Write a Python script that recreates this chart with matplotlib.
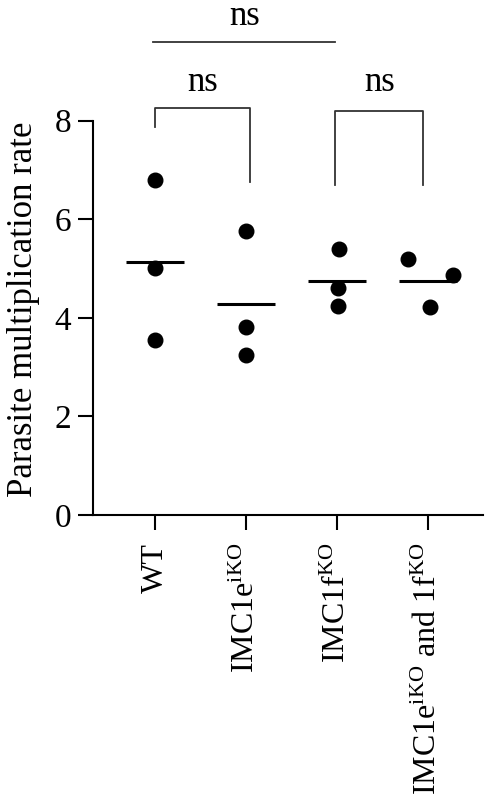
import matplotlib
matplotlib.use("Agg")
import matplotlib.pyplot as plt
import numpy as np

plt.rcParams['font.family'] = ['Liberation Serif', 'DejaVu Serif']
plt.rcParams['mathtext.fontset'] = 'custom'
plt.rcParams['mathtext.rm'] = 'Liberation Serif'
plt.rcParams['mathtext.it'] = 'Liberation Serif'

categories = ['WT', r'IMC1e$^{\mathrm{iKO}}$', r'IMC1f$^{\mathrm{KO}}$',
              r'IMC1e$^{\mathrm{iKO}}$ and 1f$^{\mathrm{KO}}$']
values = [
    [6.80, 5.02, 3.56],
    [5.76, 3.82, 3.24],
    [5.40, 4.60, 4.25],
    [5.19, 4.87, 4.21],
]
x_offsets = [
    [0.0, 0.0, 0.0],
    [0.0, 0.0, 0.0],
    [0.02, 0.01, 0.01],
    [-0.22, 0.27, 0.02],
]
yticks = [0, 2, 4, 6, 8]
comparisons = [(0, 1, 'ns'), (2, 3, 'ns'), (0, 2, 'ns')]

W, H = 487, 805
fig = plt.figure(figsize=(W / 100, H / 100), dpi=100)
ax_left, ax_right = 93.3, 483
ax_top, ax_bot = 120.7, 515
ax = fig.add_axes([ax_left / W, (H - ax_bot) / H, (ax_right - ax_left) / W, (ax_bot - ax_top) / H])

xpos = np.arange(len(categories))
for i, vals in enumerate(values):
    xs = xpos[i] + np.array(x_offsets[i])
    ax.scatter(xs, vals, s=110, color='black', zorder=3, clip_on=False)
    m = np.mean(vals)
    ax.plot([xpos[i] - 0.32, xpos[i] + 0.32], [m, m], color='black', lw=2.2, zorder=2,
            solid_capstyle='butt')

fs = 24
ax.set_xlim(-0.678, 3.604)
ax.set_ylim(0, 8)
ax.set_yticks(yticks)
ax.set_yticklabels([str(t) for t in yticks], fontsize=fs)
ax.set_xticks(xpos)
ax.set_xticklabels(categories, rotation=90, fontsize=23, va='top', ha='center')
ax.tick_params(axis='both', length=11, width=1.5, color='black')
ax.tick_params(axis='y', pad=5)
ax.tick_params(axis='x', pad=9)
for s in ['top', 'right']:
    ax.spines[s].set_visible(False)
for s in ['left', 'bottom']:
    ax.spines[s].set_linewidth(1.5)
ax.set_ylabel('Parasite multiplication rate', fontsize=25, labelpad=10)
ax.yaxis.label.set_y(0.5 + 9 / (ax_bot - ax_top))

# brackets
def ypx(p):
    return (ax_bot - p) / (ax_bot - ax_top) * 8

lc = '#333333'
# bracket WT vs IMC1e
ax.plot([0, 0, 1.04, 1.04], [ypx(127), ypx(108), ypx(108), ypx(182)], color=lc, lw=1.3, clip_on=False)
ax.text(0.52, ypx(99), comparisons[0][2], ha='center', va='bottom', fontsize=25)
# bracket IMC1f vs both
ax.plot([1.98, 1.98, 2.95, 2.95], [ypx(185), ypx(111), ypx(111), ypx(185)], color=lc, lw=1.3, clip_on=False)
ax.text(2.47, ypx(99), comparisons[1][2], ha='center', va='bottom', fontsize=25)
# top line WT vs IMC1f
ax.plot([-0.02, 1.98], [ypx(42), ypx(42)], color=lc, lw=1.3, clip_on=False)
ax.text(0.98, ypx(33), comparisons[2][2], ha='center', va='bottom', fontsize=25)

fig.savefig('out.png', dpi=100)
